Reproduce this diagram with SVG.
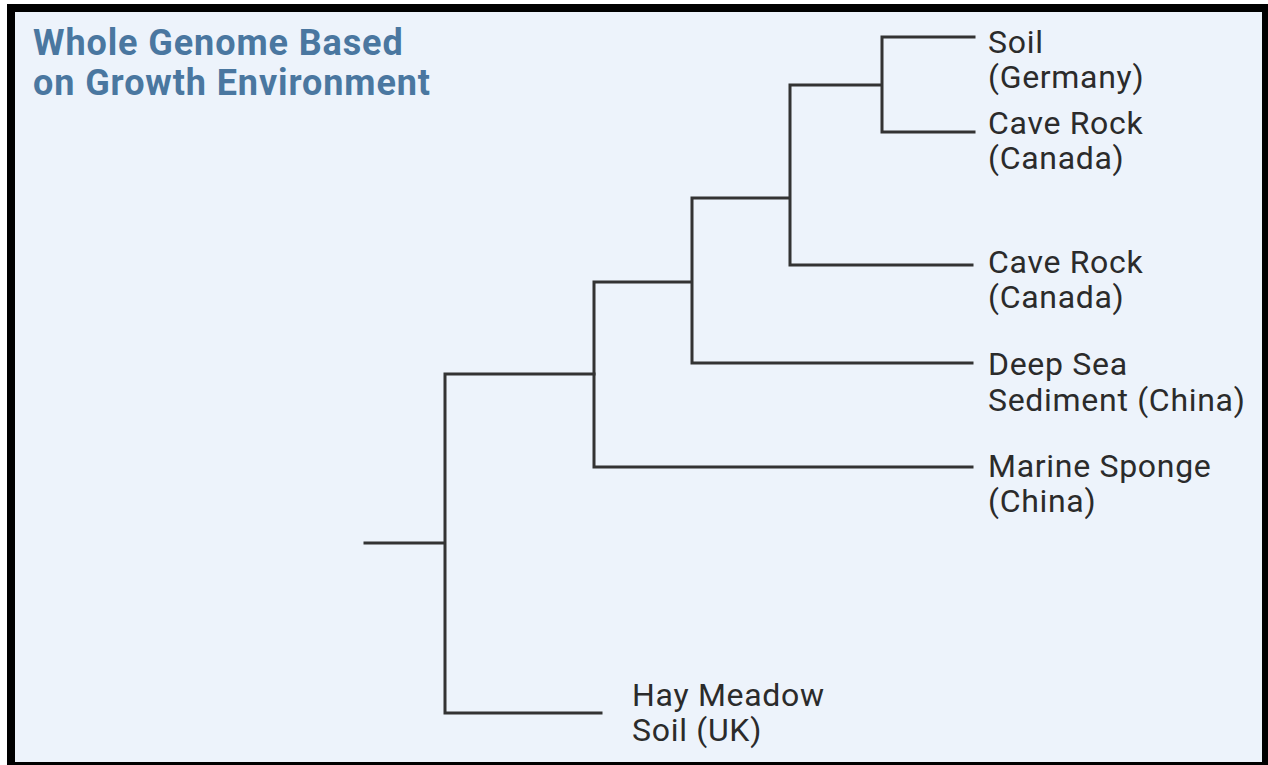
<svg xmlns="http://www.w3.org/2000/svg" width="1268" height="765" viewBox="0 0 1268 765">
<style>
.lbl{font-family:Roboto,"Liberation Sans",sans-serif;font-size:32px;letter-spacing:0.7px;fill:#2b2b2b}
.ttl{font-family:Roboto,"Liberation Sans",sans-serif;font-size:36px;letter-spacing:0.9px;font-weight:bold;fill:#4a77a0}
.br{fill:none;stroke:#333;stroke-width:3;stroke-linecap:square;stroke-linejoin:miter}
</style>
<rect x="0" y="0" width="1268" height="765" fill="#ffffff"/>
<rect x="7" y="4" width="1261" height="761" fill="#000"/>
<rect x="15" y="12" width="1247" height="750" fill="#edf3fb"/>
<g id="title">
<text class="ttl" x="33" y="55">Whole Genome Based</text>
<text class="ttl" x="33" y="95">on Growth Environment</text>
</g>
<g id="connectors">
<path class="br" d="M365 543H443"/>
<path class="br" d="M601 713H445V374H594"/>
<path class="br" d="M972 467H594V282H691"/>
<path class="br" d="M972 363H692V198H789"/>
<path class="br" d="M972 265H790V85H881"/>
<path class="br" d="M974 132H882V37H974"/>
</g>
<g id="n1"><text class="lbl" x="988" y="53">Soil</text><text class="lbl" x="988" y="88">(Germany)</text></g>
<g id="n2"><text class="lbl" x="988" y="134">Cave Rock</text><text class="lbl" x="988" y="169">(Canada)</text></g>
<g id="n3"><text class="lbl" x="988" y="273">Cave Rock</text><text class="lbl" x="988" y="308">(Canada)</text></g>
<g id="n4"><text class="lbl" x="988" y="375">Deep Sea</text><text class="lbl" x="988" y="411">Sediment (China)</text></g>
<g id="n5"><text class="lbl" x="988" y="477">Marine Sponge</text><text class="lbl" x="988" y="512">(China)</text></g>
<g id="n6"><text class="lbl" x="632" y="706">Hay Meadow</text><text class="lbl" x="632" y="741">Soil (UK)</text></g>
</svg>
